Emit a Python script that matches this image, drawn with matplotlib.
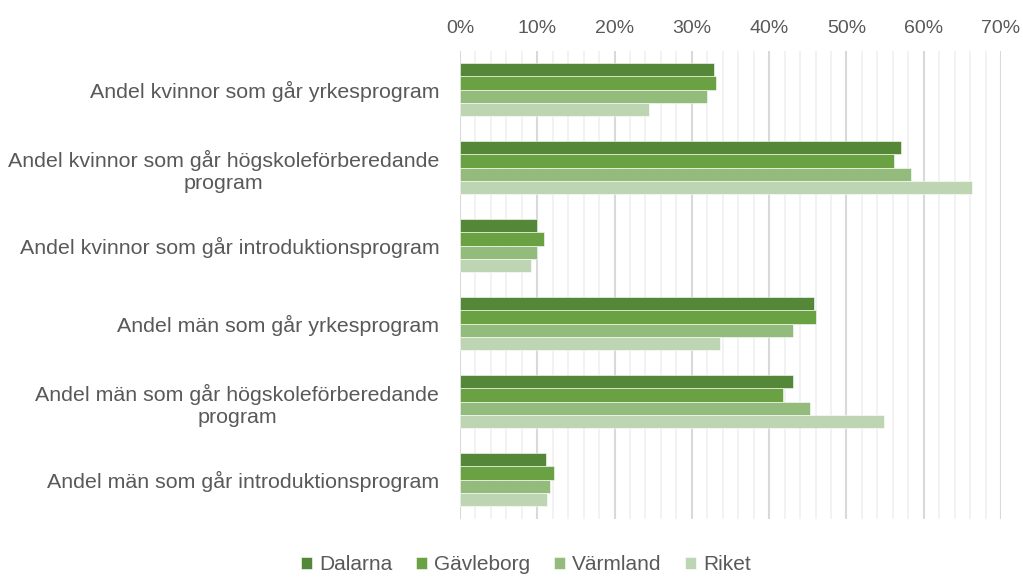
import numpy as np
import matplotlib.pyplot as plt
from matplotlib.ticker import MultipleLocator, PercentFormatter

plt.rcParams['font.family'] = ['Liberation Sans', 'DejaVu Sans']

categories = [
    "Andel kvinnor som går yrkesprogram",
    "Andel kvinnor som går högskoleförberedande\nprogram",
    "Andel kvinnor som går introduktionsprogram",
    "Andel män som går yrkesprogram",
    "Andel män som går högskoleförberedande\nprogram",
    "Andel män som går introduktionsprogram",
]
regions = ["Dalarna", "Gävleborg", "Värmland", "Riket"]

dalarna = [32.9, 57.0, 10.0, 45.8, 43.1, 11.1]
gavleborg = [33.1, 56.1, 10.9, 46.0, 41.8, 12.2]
varmland = [31.9, 58.3, 9.9, 43.1, 45.3, 11.6]
riket = [24.4, 66.3, 9.25, 33.7, 54.9, 11.3]

series = [dalarna, gavleborg, varmland, riket]
colors = ["#548738", "#6aa142", "#92bb7c", "#bed5b3"]

fig = plt.figure(figsize=(10.23, 5.77), dpi=100)
ax = fig.add_axes([460 / 1023, 1 - 518.5 / 577, 541 / 1023, 468 / 577])

y = np.arange(len(categories))
h = 0.17
for i, (vals, c, name) in enumerate(zip(series, colors, regions)):
    ax.barh(y - 1.5 * h + i * h, vals, height=h, color=c, label=name,
            edgecolor="white", linewidth=0.4, zorder=3)

ax.set_xlim(0, 70)
ax.set_ylim(len(categories) - 0.5, -0.5)
ax.xaxis.set_major_locator(MultipleLocator(10))
ax.xaxis.set_minor_locator(MultipleLocator(2))
ax.xaxis.set_major_formatter(PercentFormatter(decimals=0))
ax.xaxis.tick_top()
ax.grid(axis="x", which="major", color="#d9d9d9", linewidth=1.5, zorder=0)
ax.grid(axis="x", which="minor", color="#f0f0f0", linewidth=1.2, zorder=0)
ax.tick_params(axis="x", which="both", length=0, labelsize=14, colors="#595959", pad=10)
ax.set_yticks(y)
ax.set_yticklabels(categories, fontsize=15.4, color="#595959", ha="right",
                   multialignment="center")
ax.tick_params(axis="y", length=0, pad=15)
for s in ax.spines.values():
    s.set_visible(False)

fig.legend(loc="center", bbox_to_anchor=(526 / 1023, 1 - 565 / 577), ncol=4,
           frameon=False, fontsize=15, labelcolor="#595959",
           handlelength=0.55, handleheight=0.55, handletextpad=0.35, columnspacing=1.1)

fig.savefig("out.png", dpi=100)
